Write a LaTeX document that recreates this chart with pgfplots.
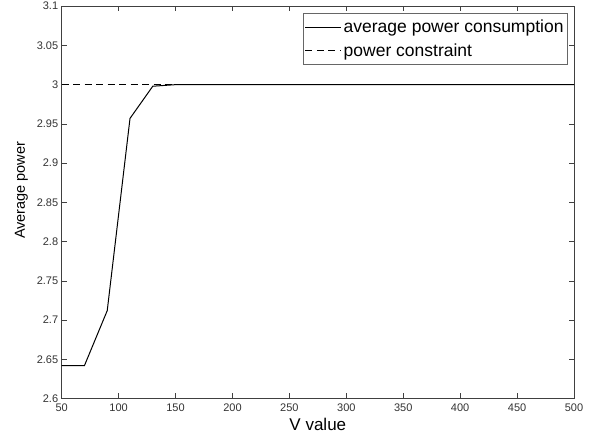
\documentclass[border=0pt]{standalone}
\usepackage{fontspec}
\setmainfont{Liberation Sans}
\usepackage{pgfplots}
\pgfplotsset{compat=1.18}
\begin{document}
\begin{tikzpicture}[x=1pt,y=1pt]
\path[use as bounding box] (-61.7,-39.5) rectangle (530.3,398.5);
\begin{axis}[
  at={(0,0)}, anchor=south west,
  scale only axis, width=512.3pt, height=392.3pt,
  xmin=50, xmax=500, ymin=2.6, ymax=3.1,
  xtick={50,100,...,500},
  ytick={2.6,2.65,...,3.1},
  yticklabel style={/pgf/number format/.cd,fixed,precision=2},
  /pgf/number format/assume math mode=true,
  tick align=inside, major tick length=5pt,
  tick style={black!75, line width=0.5pt},
  axis line style={black!75, line width=0.6pt},
  ticklabel style={font=\fontsize{11}{12}\selectfont, text=black!80},
  xticklabel style={yshift=-2pt},
  xlabel={V value}, ylabel={Average power},
  xlabel style={font=\fontsize{17}{18}\selectfont, yshift=0pt},
  ylabel style={font=\fontsize{14.5}{17}\selectfont, yshift=2pt, xshift=12pt},
  legend style={at={(0.988,0.983)}, anchor=north east, draw=black!60, line width=0.6pt,
    font=\fontsize{17.5}{20}\selectfont, inner xsep=2pt, inner ysep=5pt,
    row sep=5pt, cells={anchor=west}},
  legend cell align=left,
  legend image code/.code={\draw[#1, line width=0.8pt] (-4pt,0pt) -- (32pt,0pt);},
]
\addplot[black, line width=1pt] coordinates {
  (50,2.642) (70,2.642) (90,2.712) (110,2.957) (130,2.998) (150,3.0)
  (200,3.0) (250,3.0) (300,3.0) (350,3.0) (400,3.0) (450,3.0) (500,3.0)};
\addlegendentry{average power consumption}
\addplot[black, line width=0.9pt, dash pattern=on 7pt off 4.5pt] coordinates {(50,3.0) (500,3.0)};
\addlegendentry{power constraint}
\end{axis}
\end{tikzpicture}
\end{document}
